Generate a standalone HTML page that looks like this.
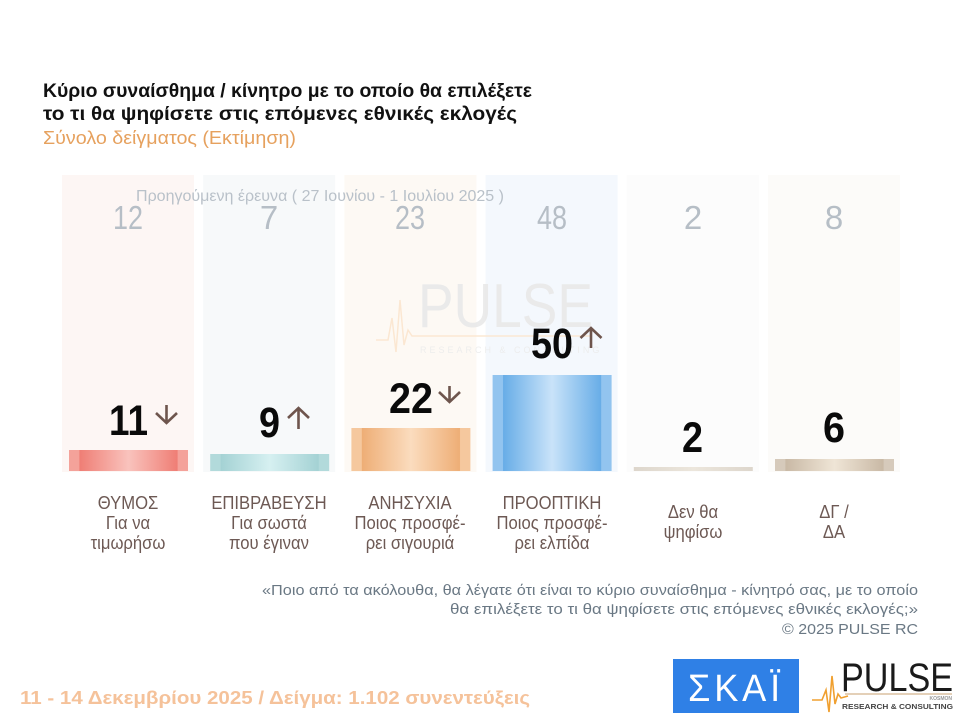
<!DOCTYPE html>
<html><head><meta charset="utf-8"><style>
html,body{margin:0;padding:0;background:#fff;}
svg{display:block;}
text{font-family:"Liberation Sans","Noto Sans CJK JP",sans-serif;}
</style></head><body>
<svg width="960" height="719" viewBox="0 0 960 719" xmlns="http://www.w3.org/2000/svg">
<defs>
<linearGradient id="g1" x1="0" x2="1" y1="0" y2="0">
<stop offset="0" stop-color="#f4a29a"/><stop offset="0.085" stop-color="#f4a29a"/><stop offset="0.09" stop-color="#ef7e75"/><stop offset="0.5" stop-color="#f9c3bd"/><stop offset="0.91" stop-color="#ef7e75"/><stop offset="0.915" stop-color="#f4a29a"/><stop offset="1" stop-color="#f4a29a"/></linearGradient>
<linearGradient id="g2" x1="0" x2="1" y1="0" y2="0">
<stop offset="0" stop-color="#b2dadb"/><stop offset="0.085" stop-color="#b2dadb"/><stop offset="0.09" stop-color="#a4d2d4"/><stop offset="0.5" stop-color="#d6f0f1"/><stop offset="0.91" stop-color="#a4d2d4"/><stop offset="0.915" stop-color="#b2dadb"/><stop offset="1" stop-color="#b2dadb"/></linearGradient>
<linearGradient id="g3" x1="0" x2="1" y1="0" y2="0">
<stop offset="0" stop-color="#f5c89e"/><stop offset="0.085" stop-color="#f5c89e"/><stop offset="0.09" stop-color="#eeae76"/><stop offset="0.5" stop-color="#fbdcbe"/><stop offset="0.91" stop-color="#eeae76"/><stop offset="0.915" stop-color="#f5c89e"/><stop offset="1" stop-color="#f5c89e"/></linearGradient>
<linearGradient id="g4" x1="0" x2="1" y1="0" y2="0">
<stop offset="0" stop-color="#92c4ef"/><stop offset="0.085" stop-color="#92c4ef"/><stop offset="0.09" stop-color="#68ade7"/><stop offset="0.5" stop-color="#c9e3f9"/><stop offset="0.91" stop-color="#68ade7"/><stop offset="0.915" stop-color="#92c4ef"/><stop offset="1" stop-color="#92c4ef"/></linearGradient>
<linearGradient id="g5" x1="0" x2="1" y1="0" y2="0">
<stop offset="0" stop-color="#ddd6cc"/><stop offset="0.5" stop-color="#ece6dc"/><stop offset="1" stop-color="#ddd6cc"/></linearGradient>
<linearGradient id="g6" x1="0" x2="1" y1="0" y2="0">
<stop offset="0" stop-color="#d6cabb"/><stop offset="0.085" stop-color="#d6cabb"/><stop offset="0.09" stop-color="#c9b9a5"/><stop offset="0.5" stop-color="#efe5d6"/><stop offset="0.91" stop-color="#c9b9a5"/><stop offset="0.915" stop-color="#d6cabb"/><stop offset="1" stop-color="#d6cabb"/></linearGradient>
</defs>

<!-- Title -->
<text x="43" y="97" font-size="19" font-weight="bold" fill="#111" textLength="489" lengthAdjust="spacingAndGlyphs">Κύριο συναίσθημα / κίνητρο με το οποίο θα επιλέξετε</text>
<text x="43" y="120" font-size="19" font-weight="bold" fill="#111" textLength="474" lengthAdjust="spacingAndGlyphs">το τι θα ψηφίσετε στις επόμενες εθνικές εκλογές</text>
<text x="43" y="144" font-size="18" fill="#e6a15e" textLength="253" lengthAdjust="spacingAndGlyphs">Σύνολο δείγματος  (Εκτίμηση)</text>

<!-- Column backgrounds -->
<rect x="62" y="175" width="132" height="297" fill="#fdf6f4"/>
<rect x="203.2" y="175" width="132" height="297" fill="#f7f9fa"/>
<rect x="344.4" y="175" width="132" height="297" fill="#fdf9f4"/>
<rect x="485.6" y="175" width="132" height="297" fill="#f4f8fd"/>
<rect x="626.8" y="175" width="132" height="297" fill="#fcfcfc"/>
<rect x="768" y="175" width="132" height="297" fill="#fcfbf9"/>

<!-- Previous survey -->
<text x="136" y="201" font-size="16" fill="#b9c1c9" textLength="368" lengthAdjust="spacingAndGlyphs">Προηγούμενη έρευνα ( 27 Ιουνίου - 1 Ιουλίου 2025 )</text>
<g font-size="33" fill="#b6bec6" text-anchor="middle">
<text x="128" y="229" textLength="30" lengthAdjust="spacingAndGlyphs">12</text>
<text x="269" y="229">7</text>
<text x="410" y="229" textLength="30" lengthAdjust="spacingAndGlyphs">23</text>
<text x="552" y="229" textLength="30" lengthAdjust="spacingAndGlyphs">48</text>
<text x="693" y="229">2</text>
<text x="834" y="229">8</text>
</g>

<!-- Watermark -->
<g opacity="0.9">
<text x="418" y="327" font-size="62" fill="#e9e9e9" textLength="175" lengthAdjust="spacingAndGlyphs">PULSE</text>
<polyline points="376,340 388,340 392,318 396,352 400,300 404,345 408,330 412,336 590,336" fill="none" stroke="#fbe6cf" stroke-width="1.5"/>
<text x="420" y="353" font-size="9" fill="#ececec" letter-spacing="3">RESEARCH &amp; CONSULTING</text>
</g>

<!-- Bars -->
<rect x="69" y="450" width="119" height="21" fill="url(#g1)"/>
<rect x="210.2" y="454" width="119" height="17" fill="url(#g2)"/>
<rect x="351.4" y="428" width="119" height="43" fill="url(#g3)"/>
<rect x="492.6" y="375" width="119" height="96" fill="url(#g4)"/>
<rect x="633.8" y="467" width="119" height="4" fill="url(#g5)"/>
<rect x="775" y="459" width="119" height="12" fill="url(#g6)"/>

<!-- Values -->
<g font-size="43" font-weight="bold" fill="#0a0a0a">
<text x="109" y="435" textLength="39" lengthAdjust="spacingAndGlyphs">11</text>
<text x="259" y="437" textLength="21" lengthAdjust="spacingAndGlyphs">9</text>
<text x="389" y="413" textLength="44" lengthAdjust="spacingAndGlyphs">22</text>
<text x="531" y="358" textLength="42" lengthAdjust="spacingAndGlyphs">50</text>
<text x="682" y="452" textLength="21" lengthAdjust="spacingAndGlyphs">2</text>
<text x="823" y="442" textLength="22" lengthAdjust="spacingAndGlyphs">6</text>
</g>

<!-- Arrows -->
<g fill="none" stroke="#6e554d" stroke-width="2.6" stroke-linecap="butt" stroke-linejoin="miter">
<path d="M166.5,405 V423 M156,413 L166.5,423 L177,413"/>
<path d="M298.5,429 V408 M288,418 L298.5,408 L309,418"/>
<path d="M449.5,386 V402 M439,392 L449.5,402 L460,392"/>
<path d="M591,348 V328 M580.5,338 L591,328 L601.5,338"/>
</g>

<!-- Category labels -->
<g font-size="18.5" fill="#6d5954" text-anchor="middle">
<g transform="translate(128,0) scale(0.9,1)"><text x="0" y="509">ΘΥΜΟΣ</text><text x="0" y="529">Για να</text><text x="0" y="549">τιμωρήσω</text></g>
<g transform="translate(269,0) scale(0.9,1)"><text x="0" y="509">ΕΠΙΒΡΑΒΕΥΣΗ</text><text x="0" y="529">Για σωστά</text><text x="0" y="549">που έγιναν</text></g>
<g transform="translate(410,0) scale(0.9,1)"><text x="0" y="509">ΑΝΗΣΥΧΙΑ</text><text x="0" y="529">Ποιος προσφέ-</text><text x="0" y="549">ρει σιγουριά</text></g>
<g transform="translate(552,0) scale(0.9,1)"><text x="0" y="509">ΠΡΟΟΠΤΙΚΗ</text><text x="0" y="529">Ποιος προσφέ-</text><text x="0" y="549">ρει ελπίδα</text></g>
<g transform="translate(693,0) scale(0.9,1)"><text x="0" y="518">Δεν θα</text><text x="0" y="538">ψηφίσω</text></g>
<g transform="translate(834,0) scale(0.9,1)"><text x="0" y="518">ΔΓ /</text><text x="0" y="538">ΔΑ</text></g>
</g>

<!-- Question -->
<g font-size="15" fill="#6a7884" text-anchor="end">
<text x="918" y="595" textLength="656" lengthAdjust="spacingAndGlyphs">«Ποιο από τα ακόλουθα, θα λέγατε ότι είναι το κύριο συναίσθημα - κίνητρό σας, με το οποίο</text>
<text x="918" y="614" textLength="468" lengthAdjust="spacingAndGlyphs">θα επιλέξετε το τι θα ψηφίσετε στις επόμενες εθνικές εκλογές;»</text>
<text x="918" y="634" textLength="136" lengthAdjust="spacingAndGlyphs">©  2025  PULSE RC</text>
</g>

<!-- Footer -->
<text x="20" y="704" font-size="18" font-weight="bold" fill="#f5c29a" textLength="510" lengthAdjust="spacingAndGlyphs">11 - 14 Δεκεμβρίου 2025  /  Δείγμα:  1.102 συνεντεύξεις</text>

<!-- SKAI logo -->
<rect x="673" y="659" width="126" height="54" fill="#2f80e6"/>
<text x="736" y="701" font-size="38" fill="#ffffff" text-anchor="middle" textLength="96" lengthAdjust="spacingAndGlyphs" letter-spacing="4">ΣΚΑΪ</text>

<!-- PULSE logo -->
<polyline points="812,700 822,700 826,690 829,712 832,676 835,704 838,694 841,698 848,696" fill="none" stroke="#f0a030" stroke-width="1.6"/>
<text x="841" y="691" font-size="40" fill="#1a1a1a" textLength="112" lengthAdjust="spacingAndGlyphs">PULSE</text>
<line x1="845" y1="694" x2="952" y2="694" stroke="#c9a070" stroke-width="1"/>
<text x="952" y="700" font-size="5" fill="#999" text-anchor="end" font-weight="bold">KOSMON</text>
<text x="842" y="709" font-size="7.5" fill="#444" font-weight="bold" textLength="111" lengthAdjust="spacingAndGlyphs">RESEARCH &amp; CONSULTING</text>
</svg>
</body></html>
